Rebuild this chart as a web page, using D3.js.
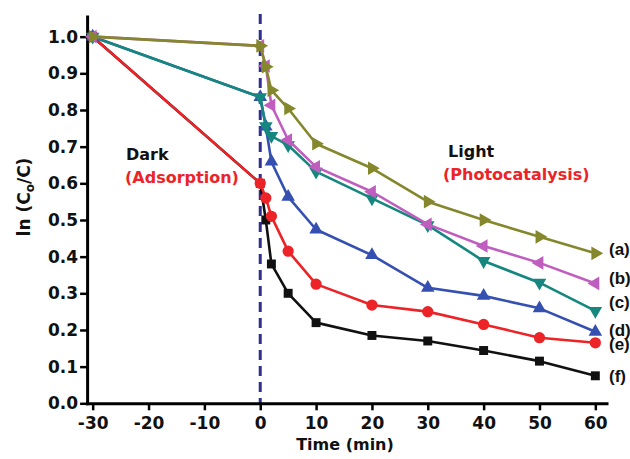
<!DOCTYPE html>
<html>
<head>
<meta charset="utf-8">
<script src="https://cdn.jsdelivr.net/npm/d3@7"></script>
<style>
  body { margin: 0; background: #fff; }
  svg { display: block; font-family: "DejaVu Sans", sans-serif; font-weight: bold; }
</style>
</head>
<body>
<svg id="chart" width="630" height="459"></svg>
<script>
// time points (min), dark period starts at -30, light switched on at 0
const times = [-30, 0, 1, 2, 5, 10, 20, 30, 40, 50, 60];

// ln(Co/C) for each sample
const seriesA = [1.0, 0.975, 0.918, 0.854, 0.804, 0.708, 0.641, 0.55, 0.50, 0.454, 0.409];
const seriesB = [1.0, 0.975, 0.92, 0.813, 0.718, 0.645, 0.577, 0.488, 0.429, 0.383, 0.327];
const seriesC = [1.0, 0.835, 0.756, 0.729, 0.704, 0.632, 0.559, 0.486, 0.388, 0.329, 0.252];
const seriesD = [1.0, 0.835, 0.755, 0.659, 0.563, 0.474, 0.404, 0.315, 0.293, 0.259, 0.195];
const seriesE = [1.0, 0.6, 0.56, 0.51, 0.415, 0.325, 0.268, 0.25, 0.215, 0.179, 0.165];
const seriesF = [1.0, 0.6, 0.5, 0.38, 0.30, 0.22, 0.185, 0.17, 0.144, 0.115, 0.075];

const labels = ['(a)', '(b)', '(c)', '(d)', '(e)', '(f)'];
const labelValues = [0.422, 0.342, 0.276, 0.2, 0.163, 0.074];

const xTicks = [-30, -20, -10, 0, 10, 20, 30, 40, 50, 60];
const yTicks = [0.0, 0.1, 0.2, 0.3, 0.4, 0.5, 0.6, 0.7, 0.8, 0.9, 1.0];

const svg = d3.select('#chart');

const x = d3.scaleLinear().domain([-31, 62]).range([87.1, 606.5]);
const y = d3.scaleLinear().domain([0, 1.055]).range([403.3, 16.5]);

// drawn bottom to top: (f) first so (a) ends up on top
const series = [
  { name: 'f', values: seriesF, color: '#111111', shape: d3.symbolSquare, size: 80, rot: 0 },
  { name: 'e', values: seriesE, color: '#ec2327', shape: d3.symbolCircle, size: 100, rot: 0 },
  { name: 'd', values: seriesD, color: '#3550b0', shape: d3.symbolTriangle, size: 80, rot: 0 },
  { name: 'c', values: seriesC, color: '#16877f', shape: d3.symbolTriangle, size: 80, rot: 180 },
  { name: 'b', values: seriesB, color: '#c05ec0', shape: d3.symbolTriangle, size: 80, rot: -90 },
  { name: 'a', values: seriesA, color: '#85872c', shape: d3.symbolTriangle, size: 80, rot: 90 }
];

// dark / light boundary
svg.append('line')
  .attr('x1', x(0)).attr('x2', x(0))
  .attr('y1', 14).attr('y2', y(0))
  .attr('stroke', '#2e2f8f')
  .attr('stroke-width', 3)
  .attr('stroke-dasharray', '10,6');

// axes (plain hyphen for negatives, like the original)
const xAxis = svg.append('g').attr('transform', 'translate(0,' + y(0) + ')');
xAxis.call(d3.axisBottom(x).tickValues(d3.range(-30, 61, 5)).tickSize(4).tickFormat('').tickSizeOuter(0));
xAxis.call(d3.axisBottom(x).tickValues(xTicks).tickSize(7).tickPadding(7).tickSizeOuter(0)
  .tickFormat(d => String(d)));

const yAxis = svg.append('g').attr('transform', 'translate(' + x(-31) + ',0)');
yAxis.call(d3.axisLeft(y).tickValues(d3.range(0, 1.01, 0.05)).tickSize(4).tickFormat('').tickSizeOuter(0));
yAxis.call(d3.axisLeft(y).tickValues(yTicks).tickSize(7).tickPadding(2).tickFormat(d => d.toFixed(1)).tickSizeOuter(0));

svg.selectAll('.domain').attr('stroke', '#000').attr('stroke-width', 3).attr('stroke-linecap', 'square');
svg.selectAll('.tick line').attr('stroke', '#000').attr('stroke-width', 2.5);
svg.selectAll('.tick text')
  .attr('fill', '#111')
  .style('font-family', '"DejaVu Sans", sans-serif')
  .style('font-weight', 'bold')
  .style('font-size', '17px');

// lines and markers
const line = d3.line().x((d, i) => x(times[i])).y(d => y(d));

series.forEach(function (s) {
  svg.append('path')
    .datum(s.values)
    .attr('fill', 'none')
    .attr('stroke', s.color)
    .attr('stroke-width', 2.6)
    .attr('stroke-linejoin', 'round')
    .attr('d', line);

  svg.append('g')
    .selectAll('path')
    .data(s.values)
    .join('path')
    .attr('d', d3.symbol().type(s.shape).size(s.size))
    .attr('fill', s.color)
    .attr('transform', (d, i) => 'translate(' + x(times[i]) + ',' + y(d) + ') rotate(' + s.rot + ')');
});

// series labels on the right (narrower face, as in the original)
svg.append('g')
  .selectAll('text')
  .data(labels)
  .join('text')
  .attr('x', 609)
  .attr('y', (d, i) => y(labelValues[i]) + 6)
  .attr('font-size', 17)
  .style('font-family', '"Liberation Sans", Arial, sans-serif')
  .attr('fill', '#111')
  .text(d => d);

// annotations
svg.append('text').attr('x', 126).attr('y', 160).attr('font-size', 16).attr('fill', '#111').text('Dark');
svg.append('text').attr('x', 125).attr('y', 183).attr('font-size', 16).attr('fill', '#ec2327').text('(Adsorption)');
svg.append('text').attr('x', 448).attr('y', 157).attr('font-size', 16).attr('fill', '#111').text('Light');
svg.append('text').attr('x', 443).attr('y', 180).attr('font-size', 16).attr('fill', '#ec2327').text('(Photocatalysis)');

// axis titles
svg.append('text')
  .attr('x', 345).attr('y', 450)
  .attr('text-anchor', 'middle')
  .attr('font-size', 16)
  .attr('fill', '#111')
  .text('Time (min)');

const yTitle = svg.append('text')
  .attr('transform', 'translate(30,197) rotate(-90)')
  .attr('text-anchor', 'middle')
  .attr('font-size', 17)
  .attr('fill', '#111');
yTitle.append('tspan').text('ln (C');
yTitle.append('tspan').attr('font-size', 12).attr('dy', 4).text('o');
yTitle.append('tspan').attr('dy', -4).text('/C)');
</script>
</body>
</html>
